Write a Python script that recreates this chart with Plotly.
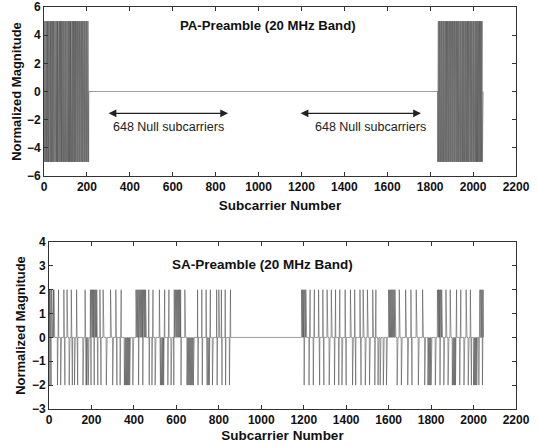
import plotly.graph_objects as go

# ---------------- data ----------------
n_sub = 2048
# PA-preamble: sign pattern of the +/-5 values in the two occupied edge bands
pa_amp = 5.0
pa_left_start = 0
pa_left_signs = (
    "+-+-+--+-++-+-+--+-+-++-+--+-+-+-++--+-+-+-+--+-+"
    "+-+--+-+-+-++-+---+-+-+-+--+-+-+--++-+-+-+-+--+-+"
    "-+-+-++-+-+--+-+-+-+-++-+-+-+---+-+-+-+--+-+-+-+-"
    "+-+-+-+--+-+-+-++-+-+-+-+--+-+-+-+-+-++-+-+-+--+-"
    "+-+-+-+--+-+-"
)
pa_right_start = 1835
pa_right_signs = (
    "-+-+-+--+-+-+-++-+-+-+-+--+-+-+-+-++-+-+--+-+-+-+"
    "+-+-+-+-+--+-+-+--+-+-+-+-++-+-+-+-+--+-+-+-+-+-+"
    "-+-++-+-+-+--+-+-+-+-+-+-++-+-+-+--+-+-+-+-+-+-+-"
    "+-+--+-+-+-+-+-++-+-+-+-+--+-+-+-+-+-+-++-+-+-+-+"
    "-+-+-+-+-+-+-"
)

# SA-preamble: subcarriers carrying +2 and -2
sa_amp = 2.0
sa_up = [2, 5, 8, 11, 14, 17, 20, 23, 45, 70, 85, 105, 130, 170,
         195, 200, 205, 210, 215, 220, 225, 240, 255, 290, 315, 340, 365, 380,
         410, 415, 420, 425, 430, 435, 440, 445, 450, 455, 470, 490, 520, 545, 565,
         590, 595, 600, 605, 610, 615, 620, 640, 660, 680, 700, 720, 740, 760,
         790, 800, 812, 830, 855,
         1190, 1195, 1200, 1205, 1210, 1230, 1250, 1270, 1290, 1310, 1330, 1350,
         1370, 1395, 1420, 1440, 1465, 1480, 1500, 1525, 1540,
         1600, 1605, 1610, 1615, 1620, 1625, 1630, 1650, 1680, 1705, 1730, 1760,
         1790, 1830, 1835, 1840, 1845, 1850, 1870, 1890, 1920, 1940, 1965, 1985,
         2030, 2035, 2040, 2045]
sa_down = [1, 4, 7, 10, 40, 55, 75, 95, 110, 120, 135, 160, 175, 178, 181, 185,
           198, 213, 230, 245, 270, 300, 320, 335, 355, 360, 365, 370, 375, 380,
           395, 422, 442, 472, 485, 500, 525, 530, 535, 540, 560, 575, 588, 622,
           650, 655, 660, 665, 670, 675, 680, 702, 722, 745, 750, 755, 770, 792,
           815, 832, 850,
           1202, 1225, 1245, 1275, 1295, 1320, 1345, 1365, 1380, 1400, 1430, 1445,
           1470, 1490, 1510, 1535, 1550, 1560, 1575, 1590, 1640, 1660, 1690, 1710,
           1740, 1770, 1785, 1790, 1795, 1800, 1820, 1842, 1860, 1880, 1900, 1905,
           1910, 1915, 1935, 1955, 1975, 1990, 2000, 2005, 2010, 2015, 2025, 2042]

x_ticks = [0, 200, 400, 600, 800, 1000, 1200, 1400, 1600, 1800, 2000, 2200]
pa_y_ticks = [-6, -4, -2, 0, 2, 4, 6]
sa_y_ticks = [-3, -2, -1, 0, 1, 2, 3, 4]

title_pa = "PA-Preamble (20 MHz Band)"
title_sa = "SA-Preamble (20 MHz Band)"
null_label = "648 Null subcarriers"
x_title = "Subcarrier Number"
y_title = "Normalized Magnitude"

# ---------------- build series ----------------
sub = list(range(n_sub))
pa_y = [0.0] * n_sub
for i, s in enumerate(pa_left_signs):
    pa_y[pa_left_start + i] = pa_amp if s == "+" else -pa_amp
for i, s in enumerate(pa_right_signs):
    k = pa_right_start + i
    if k < n_sub:
        pa_y[k] = pa_amp if s == "+" else -pa_amp

sa_y = [0.0] * n_sub
for k in sa_up:
    sa_y[k] = sa_amp
for k in sa_down:
    sa_y[k] = -sa_amp

fig = go.Figure()
fig.add_trace(go.Scatter(x=sub, y=pa_y, mode="lines",
                         line=dict(color="#3a3a3a", width=0.5),
                         xaxis="x", yaxis="y", showlegend=False, hoverinfo="skip"))
fig.add_trace(go.Scatter(x=sub, y=sa_y, mode="lines",
                         line=dict(color="#3a3a3a", width=0.5),
                         xaxis="x2", yaxis="y2", showlegend=False, hoverinfo="skip"))

bold = "Liberation Sans, Arial, sans-serif"
tickfont = dict(family=bold, size=12, color="#111", weight="bold")
titlefont = dict(family=bold, size=13.5, color="#111", weight="bold")
ytitlefont = dict(family=bold, size=13, color="#111", weight="bold")

axis_common = dict(showgrid=False, zeroline=False, ticks="inside", ticklen=4,
                   tickcolor="#333", showline=True, linecolor="#333", linewidth=1,
                   mirror="ticks", tickfont=tickfont, automargin=False)

W, H = 538, 445
fig.update_layout(
    width=W, height=H, margin=dict(l=0, r=0, t=0, b=0, autoexpand=False),
    paper_bgcolor="white", plot_bgcolor="white",
    xaxis=dict(domain=[44 / W, 516 / W], range=[0, 2200], tickvals=x_ticks,
               anchor="y", title=dict(text=x_title, font=titlefont, standoff=7),
               **axis_common),
    yaxis=dict(domain=[1 - 176 / H, 1 - 7 / H], range=[-6, 6], tickvals=pa_y_ticks,
               anchor="x", title=dict(text=y_title, font=ytitlefont, standoff=2),
               **axis_common),
    xaxis2=dict(domain=[49 / W, 516 / W], range=[0, 2200], tickvals=x_ticks,
                anchor="y2", title=dict(text=x_title, font=titlefont, standoff=4),
                **axis_common),
    yaxis2=dict(domain=[1 - 409 / H, 1 - 242 / H], range=[-3, 4], tickvals=sa_y_ticks,
                anchor="x2", title=dict(text=y_title, font=ytitlefont, standoff=3),
                **axis_common),
)

annots = [
    dict(x=1044, y=4.72, xref="x", yref="y", text=title_pa, showarrow=False,
         font=dict(family=bold, size=13.2, color="#111", weight="bold")),
    dict(x=1008, y=3.04, xref="x2", yref="y2", text=title_sa, showarrow=False,
         font=dict(family=bold, size=13.5, color="#111", weight="bold")),
    dict(x=580, y=-2.55, xref="x", yref="y", text=null_label, showarrow=False,
         font=dict(family=bold, size=12.5, color="#222")),
    dict(x=1520, y=-2.55, xref="x", yref="y", text=null_label, showarrow=False,
         font=dict(family=bold, size=12.5, color="#222")),
]
for a, b in [(294, 858), (1189, 1757)]:
    annots.append(dict(x=b, y=-1.55, ax=a, ay=-1.55, xref="x", yref="y",
                       axref="x", ayref="y", text="", showarrow=True,
                       arrowhead=2, startarrowhead=2, arrowside="end+start",
                       arrowsize=1.3, startarrowsize=1.3, arrowwidth=1.2,
                       arrowcolor="#222"))
fig.update_layout(annotations=annots)

fig.write_html("out.html", config={"displayModeBar": False},
               post_script="document.body.style.margin='0px';")
